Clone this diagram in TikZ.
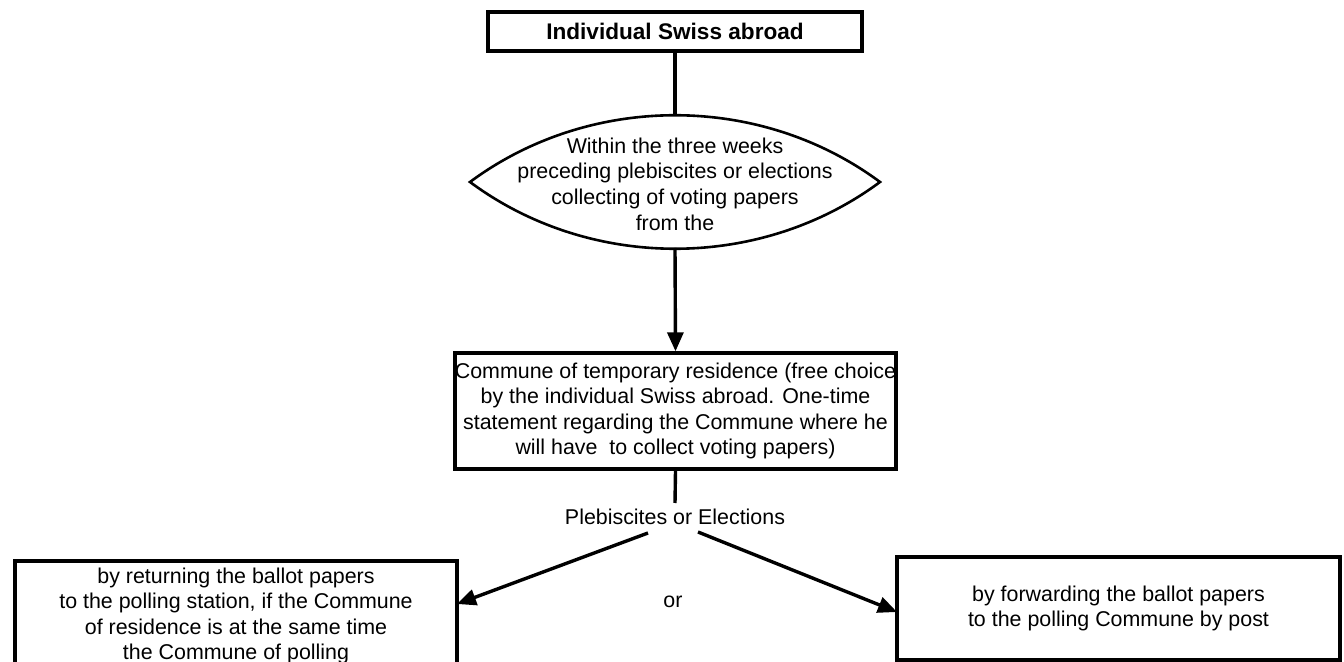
\documentclass[tikz,border=0pt]{standalone}
\usepackage{fontspec}
\setmainfont{Liberation Sans}
\usetikzlibrary{arrows.meta}
\begin{document}
\begin{tikzpicture}[x=0.5pt,y=-0.5pt,
  every node/.style={font=\fontsize{10.7}{12.8}\selectfont, align=center, inner sep=0pt},
  box/.style={draw, line width=1.7pt, rectangle},
  conn/.style={line width=1.7pt},
  arr/.style={line width=1.7pt, -{Triangle[length=9.5pt,width=8pt]}}]
\useasboundingbox (0,0) rectangle (1344,662);
\clip (0,0) rectangle (1344,662);
% top box
\node[box, minimum width=187pt, minimum height=19.5pt,
      font=\fontsize{11.3}{13}\selectfont\bfseries] (top) at (675,31.5) {Individual Swiss abroad};
% lens
\coordinate (lensL) at (470,182);
\coordinate (lensR) at (880,182);
\coordinate (lensT) at (675,115);
\coordinate (lensB) at (675,248);
\draw[line width=1.3pt] (lensL) .. controls (590,93) and (760,93) .. (lensR)
                              .. controls (760,271) and (590,271) .. (lensL) -- cycle;
\node (lens) at (675,184) {Within the three weeks\\preceding plebiscites or elections\\collecting of voting papers\\from the};
% middle box
\node[box, minimum width=220.5pt, minimum height=58pt] (mid) at (675.5,411)
  {Commune of temporary residence (free choice\\by the individual Swiss abroad. One-time\\statement regarding the Commune where he\\will have\ \ to collect voting papers)};
\draw[conn] (top.south) -- (lensT);
\draw[arr] (lensB) -- (mid.north);
\coordinate (split) at (675,503);
\draw[conn] (mid.south) -- (split);
\node (pe) at (675,517) {Plebiscites or Elections};
% bottom boxes
\node[box, minimum width=221pt, minimum height=55pt] (left) at (236,616)
  {by returning the ballot papers\\to the polling station, if the Commune\\of residence is at the same time\\the Commune of polling};
\node[box, minimum width=221.5pt, minimum height=51.5pt] (right) at (1118.5,608.5)
  {by forwarding the ballot papers\\to the polling Commune by post};
\coordinate (ls) at (648,533);
\coordinate (lt) at (457,604);
\coordinate (rs) at (698,532);
\coordinate (rt) at (897,612);
\draw[arr] (ls) -- (lt);
\draw[arr] (rs) -- (rt);
\node (or) at (673,602) {or};
\end{tikzpicture}
\end{document}
